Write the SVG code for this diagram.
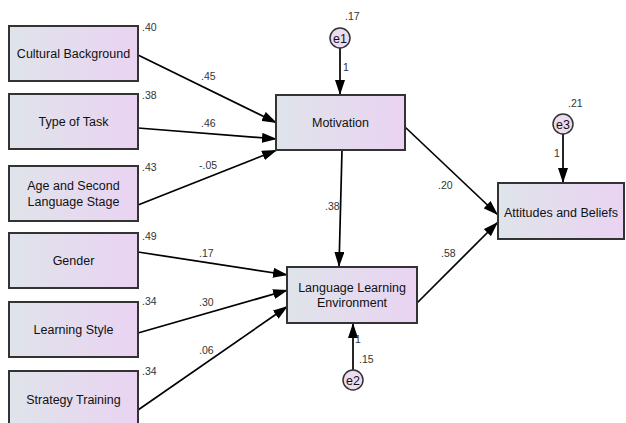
<svg xmlns="http://www.w3.org/2000/svg" width="626" height="423" viewBox="0 0 626 423">
<defs>
<linearGradient id="g" x1="0" y1="0" x2="1" y2="0">
<stop offset="0" stop-color="#dfe4ea"/>
<stop offset="1" stop-color="#ead3f2"/>
</linearGradient>
<marker id="ah" viewBox="0 0 15 10" refX="15" refY="5" markerWidth="15" markerHeight="10" markerUnits="userSpaceOnUse" orient="auto">
<path d="M0,0 L15,5 L0,10 Z" fill="#000"/>
</marker>
<style>
.box{fill:url(#g);stroke:#333;stroke-width:2}
.err{fill:#ecdcf2;stroke:#333;stroke-width:1.5}
.lbl{font-family:"Liberation Sans",Arial,sans-serif;font-size:12.5px;fill:#111;text-anchor:middle}
.el{font-family:"Liberation Sans",Arial,sans-serif;font-size:12.5px;fill:#111;text-anchor:middle}
.num{font-family:"Liberation Sans",Arial,sans-serif;font-size:10.5px;fill:#333}
.c{stroke:#000;stroke-width:1.7;fill:none;marker-end:url(#ah)}
</style>
</defs>
<rect width="626" height="423" fill="#fff"/>
<g id="connectors">
<line class="c" x1="138" y1="55" x2="277" y2="123"/>
<line class="c" x1="138" y1="128" x2="277" y2="139"/>
<line class="c" x1="138" y1="205" x2="277" y2="150"/>
<line class="c" x1="138" y1="252" x2="288" y2="275"/>
<line class="c" x1="138" y1="333" x2="288" y2="290"/>
<line class="c" x1="138" y1="410" x2="288" y2="306"/>
<line class="c" x1="342" y1="150" x2="339" y2="267"/>
<line class="c" x1="405" y1="127" x2="498" y2="215"/>
<line class="c" x1="417" y1="303" x2="498" y2="222"/>
<line class="c" x1="340" y1="48" x2="340" y2="95"/>
<line class="c" x1="353" y1="370" x2="353" y2="323"/>
<line class="c" x1="563" y1="134" x2="563" y2="183"/>
<text class="num" x="201" y="80">.45</text>
<text class="num" x="201" y="127">.46</text>
<text class="num" x="199" y="169">-.05</text>
<text class="num" x="199" y="257">.17</text>
<text class="num" x="199" y="306">.30</text>
<text class="num" x="199" y="354">.06</text>
<text class="num" x="325" y="210">.38</text>
<text class="num" x="438" y="189">.20</text>
<text class="num" x="441" y="257">.58</text>
<text class="num" x="343" y="71">1</text>
<text class="num" x="355" y="343">1</text>
<text class="num" x="554" y="157">1</text>
</g>
<g id="cultural">
<rect class="box" x="9" y="26" width="129" height="55"/>
<text class="lbl" x="73.5" y="58">Cultural Background</text>
<text class="num" x="142" y="31">.40</text>
</g>
<g id="task">
<rect class="box" x="9" y="94" width="129" height="55"/>
<text class="lbl" x="73.5" y="126">Type of Task</text>
<text class="num" x="142" y="99">.38</text>
</g>
<g id="age">
<rect class="box" x="9" y="166" width="129" height="55"/>
<text class="lbl" x="73.5" y="190">Age and Second</text>
<text class="lbl" x="73.5" y="206">Language Stage</text>
<text class="num" x="142" y="171">.43</text>
</g>
<g id="gender">
<rect class="box" x="9" y="233" width="129" height="55"/>
<text class="lbl" x="73.5" y="265">Gender</text>
<text class="num" x="142" y="240">.49</text>
</g>
<g id="style">
<rect class="box" x="9" y="302" width="129" height="55"/>
<text class="lbl" x="73.5" y="334">Learning Style</text>
<text class="num" x="142" y="305">.34</text>
</g>
<g id="strategy">
<rect class="box" x="9" y="371" width="129" height="56"/>
<text class="lbl" x="73.5" y="404">Strategy Training</text>
<text class="num" x="142" y="375">.34</text>
</g>
<g id="motivation">
<rect class="box" x="276" y="95" width="129" height="55"/>
<text class="lbl" x="340.5" y="127">Motivation</text>
</g>
<g id="lle">
<rect class="box" x="287" y="267" width="130" height="56"/>
<text class="lbl" x="352" y="292">Language Learning</text>
<text class="lbl" x="352" y="307">Environment</text>
</g>
<g id="attitudes">
<rect class="box" x="498" y="183" width="126" height="56"/>
<text class="lbl" x="561" y="217">Attitudes and Beliefs</text>
</g>
<g id="e1">
<ellipse class="err" cx="340" cy="38" rx="10" ry="10"/>
<text class="el" x="340" y="42.5">e1</text>
<text class="num" x="345" y="20">.17</text>
</g>
<g id="e2">
<ellipse class="err" cx="353" cy="380" rx="10" ry="10"/>
<text class="el" x="353" y="384.5">e2</text>
<text class="num" x="359" y="363">.15</text>
</g>
<g id="e3">
<ellipse class="err" cx="563" cy="124" rx="10" ry="10"/>
<text class="el" x="563" y="128.5">e3</text>
<text class="num" x="568" y="107">.21</text>
</g>
</svg>
